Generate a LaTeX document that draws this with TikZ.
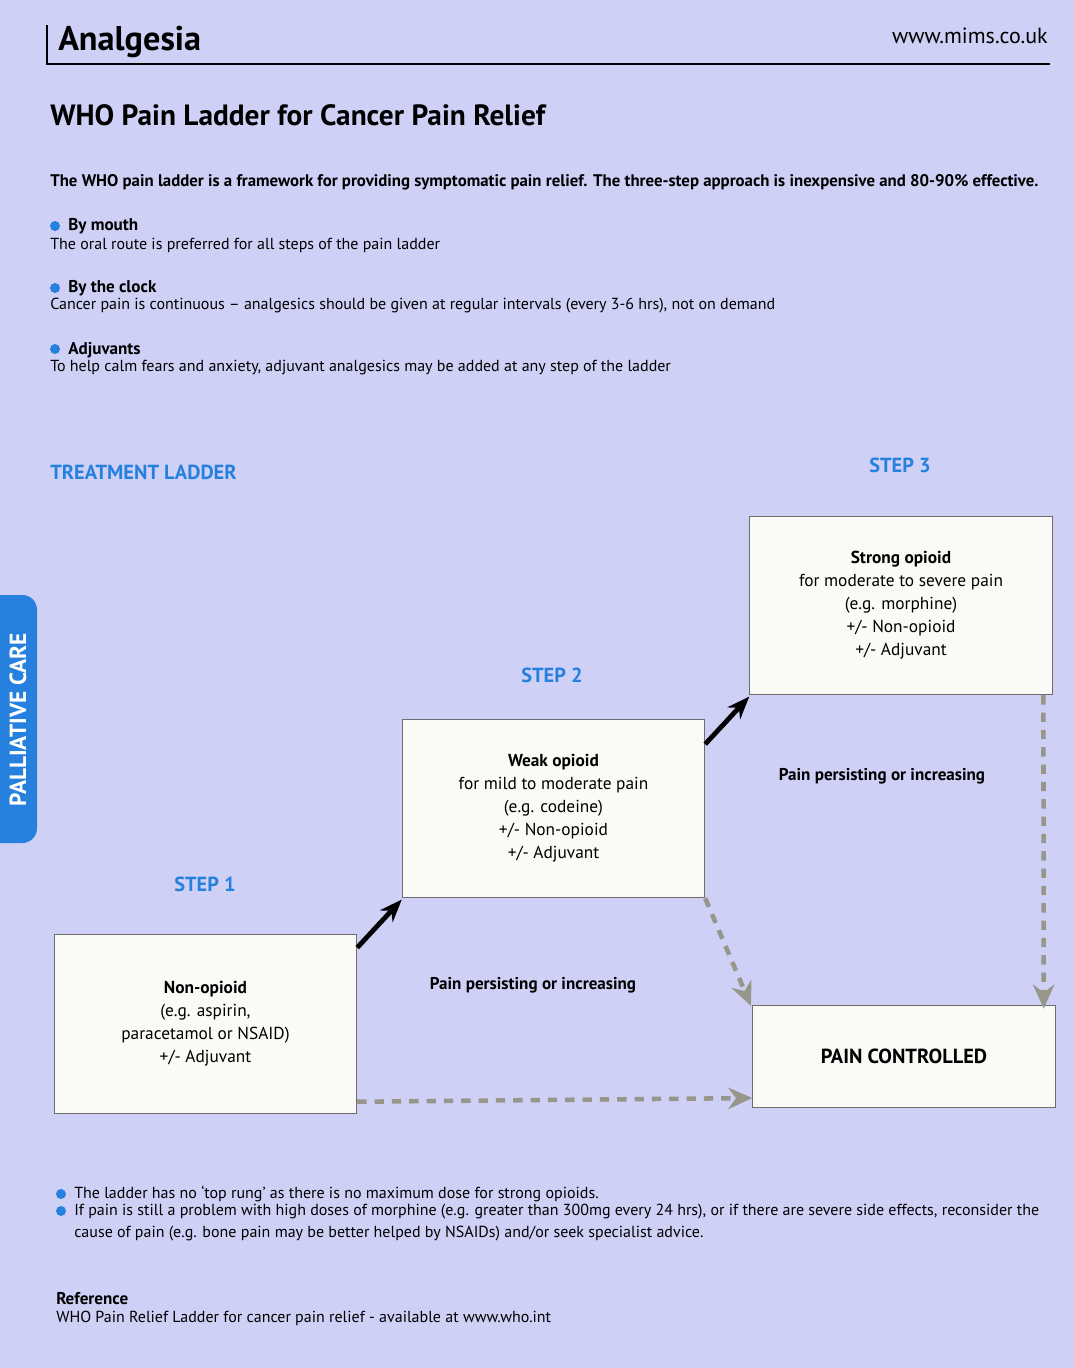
\documentclass[tikz,border=0pt]{standalone}
\usepackage{fontspec}
\setmainfont{PT Sans}
\usetikzlibrary{arrows.meta,positioning}

\definecolor{paper}{RGB}{207,208,246}
\definecolor{mimsblue}{RGB}{38,128,222}
\definecolor{arrowgrey}{RGB}{150,150,138}
\definecolor{boxfill}{RGB}{250,250,247}
\definecolor{boxline}{RGB}{110,110,110}

\begin{document}
\begin{tikzpicture}[x=0.75pt,y=-0.75pt,
    body/.style={anchor=base west, inner sep=0pt, font=\fontsize{12}{14}\selectfont},
    bodybold/.style={body, font=\fontsize{12.8}{14}\selectfont\bfseries},
    steplabel/.style={anchor=base, inner sep=0pt, text=mimsblue, font=\fontsize{15.3}{18}\selectfont\bfseries},
    rung/.style={draw=boxline, line width=0.6pt, fill=boxfill, align=center,
        minimum width=227pt, minimum height=134pt, inner sep=0pt,
        font=\fontsize{13}{17.25}\selectfont},
    persist/.style={inner sep=0pt, font=\fontsize{12.8}{14}\selectfont\bfseries},
    stepup/.style={line width=3.6pt, -{Stealth[length=17pt,width=13pt]}},
    relief/.style={arrowgrey, line width=3.4pt, dash pattern=on 7pt off 6pt,
        -{Stealth[length=18pt,width=16pt]}},
    dot/.style={mimsblue, radius=5}]

    \useasboundingbox (0,0) rectangle (1074,1368);
    \clip (0,0) rectangle (1074,1368);
    \fill[paper] (0,0) rectangle (1074,1368);

    % Header
    \draw[line width=0.8pt] (47,25) -- (47,64) -- (1050,64);
    \node[anchor=base west, inner sep=0pt, font=\fontsize{25.7}{28}\selectfont\bfseries] (section) at (58,50) {Analgesia};
    \node[anchor=base east, inner sep=0pt, font=\fontsize{16.5}{18}\selectfont] (site) at (1048,43) {www.mims.co.uk};
    \node[anchor=base west, inner sep=0pt, font=\fontsize{22}{24}\selectfont\bfseries] (title) at (50,125) {WHO Pain Ladder for Cancer Pain Relief};

    % Introduction
    \node[bodybold, font=\fontsize{12.6}{14}\selectfont\bfseries] (intro) at (50,186) {The WHO pain ladder is a framework for providing symptomatic pain relief. The three-step approach is inexpensive and 80-90\% effective.};
    \fill[dot] (55,226) circle;
    \node[bodybold] (mouth) at (68,230) {By mouth};
    \node[body] (mouthtxt) at (50,249) {The oral route is preferred for all steps of the pain ladder};
    \fill[dot] (55,288) circle;
    \node[bodybold] (clock) at (68,292) {By the clock};
    \node[body] (clocktxt) at (50,309) {Cancer pain is continuous – analgesics should be given at regular intervals (every 3-6 hrs), not on demand};
    \fill[dot] (55,349) circle;
    \node[bodybold] (adjuv) at (68,354) {Adjuvants};
    \node[body] (adjuvtxt) at (50,371) {To help calm fears and anxiety, adjuvant analgesics may be added at any step of the ladder};

    % Side tab
    \fill[mimsblue, rounded corners=11pt] (-15,595) rectangle (37,843);
    \node[rotate=90, text=white, inner sep=0pt, font=\fontsize{17.5}{18}\selectfont\bfseries] (tab) at (18,720) {PALLIATIVE CARE};

    % Treatment ladder
    \node[steplabel, anchor=base west] (ladder) at (50,479) {TREATMENT LADDER};
    \node[steplabel] (step3) at (900,472) {STEP 3};
    \node[steplabel] (step2) at (552,682) {STEP 2};
    \node[steplabel] (step1) at (205,891) {STEP 1};

    \node[rung] (strong) at (901,605.5) {\textbf{Strong opioid}\\for moderate to severe pain\\(e.g. morphine)\\+/- Non-opioid\\+/- Adjuvant};
    \node[rung] (weak) at (553.5,808.5) {\textbf{Weak opioid}\\for mild to moderate pain\\(e.g. codeine)\\+/- Non-opioid\\+/- Adjuvant};
    \node[rung] (nonop) at (205.5,1024) {\textbf{Non-opioid}\\(e.g. aspirin,\\paracetamol or NSAID)\\+/- Adjuvant};
    \node[rung, minimum height=76.5pt, font=\fontsize{15.3}{18}\selectfont\bfseries] (controlled) at (904,1056) {PAIN CONTROLLED};

    \node[persist] (persist1) at (533,985) {Pain persisting or increasing};
    \node[persist] (persist2) at (882,776) {Pain persisting or increasing};

    % Connectors
    \draw[stepup] ([yshift=-10pt]nonop.north east) -- ([yshift=-1pt]weak.south west);
    \draw[stepup] ([yshift=-19pt]weak.north east) -- ([yshift=-1pt]strong.south west);
    \draw[relief] (weak.south east) -- ([shift={(-1pt,-1pt)}]controlled.north west);
    \draw[relief] ([xshift=-7pt]strong.south east) -- ([xshift=-9pt,yshift=-3pt]controlled.north east);
    \draw[relief] ([yshift=9pt]nonop.south east) -- ([yshift=7pt]controlled.south west);

    % Notes
    \fill[dot] (61,1194) circle;
    \node[body] (note1) at (74,1198) {The ladder has no ‘top rung’ as there is no maximum dose for strong opioids.};
    \fill[dot] (61,1211) circle;
    \node[body] (note2) at (74,1215) {If pain is still a problem with high doses of morphine (e.g. greater than 300mg every 24 hrs), or if there are severe side effects, reconsider the};
    \node[body] (note3) at (74,1237) {cause of pain (e.g. bone pain may be better helped by NSAIDs) and/or seek specialist advice.};

    % Reference
    \node[bodybold] (refhead) at (56,1304) {Reference};
    \node[body] (reftxt) at (56,1322) {WHO Pain Relief Ladder for cancer pain relief - available at www.who.int};
\end{tikzpicture}
\end{document}
